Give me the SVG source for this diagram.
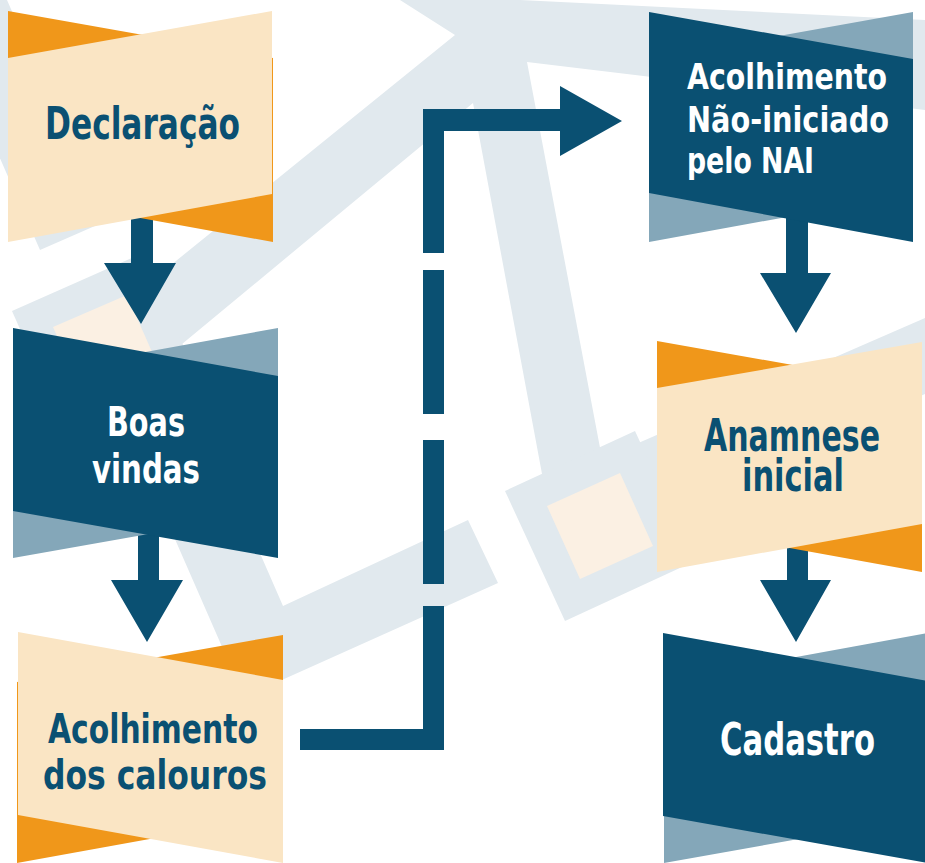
<svg xmlns="http://www.w3.org/2000/svg" width="925" height="863" viewBox="0 0 925 863">
<style>
.bg{fill:#e1e9ee}
.bgsq{fill:#fbf0e3}
.orange{fill:#f0971a}
.beige{fill:#fae5c4}
.dark{fill:#0a5072}
.light{fill:#84a7b9}
.conn{fill:#0a5072}
.t{font-family:"DejaVu Sans Condensed","DejaVu Sans",sans-serif;font-weight:bold;text-anchor:middle}
.tb{fill:#0a5072}
.tw{fill:#ffffff}
</style>
<rect width="925" height="863" fill="#ffffff"/>
<g id="background">
<polygon class="bg" points="400,0 520,0 925,20 925,110 527,62 608,490 545,490 473,103 170,354 150,282 455,35"/>
<polygon class="bg" points="40,250 104,222 7,0 -69,0"/>
<polygon class="bg" points="101,370 180,370 283,606 468,520 498,583 244,697"/>
<polygon class="bg" points="620,451 925,318 925,394 640,518"/>
<polygon class="bg" points="12,311 143,253 200,384 70,442"/>
<polygon class="bgsq" points="53,327 127,295 159,368 85,400"/>
<polygon class="bg" points="505,491 635,431 695,561 565,621"/>
<polygon class="bgsq" points="547,506 620,473 653,546 580,579"/>
</g>
<g id="connectors">
<path class="conn" d="M131,200H153V263H176L141,324L104,263H131Z"/>
<path class="conn" d="M138,500H159V580H183L147,642L111,580H138Z"/>
<path class="conn" d="M786,200H808V273H831L796,333L760,273H786Z"/>
<path class="conn" d="M787,540H808V580H831L796,642L760,580H787Z"/>
<path class="conn" d="M300,729H423V606H444V750H300Z M423,440H444V584H423Z M423,270H444V414H423Z M423,109H560V86L622,121L560,156V131H444V253H423Z"/>
</g>
<g id="node-declaracao">
<polygon class="orange" points="8,11 273,58 273,242 8,194"/>
<polygon class="beige" points="8,58 272,11 272,194 8,242"/>
<text class="t tb" x="142.5" y="139" font-size="44" textLength="195" lengthAdjust="spacingAndGlyphs">Declaração</text>
</g>
<g id="node-boas-vindas">
<polygon class="light" points="13,376 278,328 278,511 13,558"/>
<polygon class="dark" points="13,328 278,376 278,558 13,511"/>
<text class="t tw" x="146" y="436" font-size="41" textLength="78" lengthAdjust="spacingAndGlyphs">Boas</text>
<text class="t tw" x="146" y="483" font-size="41" textLength="108" lengthAdjust="spacingAndGlyphs">vindas</text>
</g>
<g id="node-acolhimento-calouros">
<polygon class="orange" points="17,682 283,635 283,815 17,863"/>
<polygon class="beige" points="18,632 283,680 283,863 18,815"/>
<text class="t tb" x="153" y="743" font-size="41" textLength="210" lengthAdjust="spacingAndGlyphs">Acolhimento</text>
<text class="t tb" x="155" y="789" font-size="41" textLength="224" lengthAdjust="spacingAndGlyphs">dos calouros</text>
</g>
<g id="node-acolhimento-nai">
<polygon class="light" points="649,59 913,12 913,194 649,242"/>
<polygon class="dark" points="649,12 913,59 913,242 649,193"/>
<text class="t tw" x="787" y="89" font-size="35" textLength="200" lengthAdjust="spacingAndGlyphs">Acolhimento</text>
<text class="t tw" x="788" y="132" font-size="35" textLength="202" lengthAdjust="spacingAndGlyphs">Não-iniciado</text>
<text class="t tw" x="750.5" y="173" font-size="35" textLength="127" lengthAdjust="spacingAndGlyphs">pelo NAI</text>
</g>
<g id="node-anamnese">
<polygon class="orange" points="657,341 922,388 922,572 657,524"/>
<polygon class="beige" points="657,388 922,342 922,524 657,572"/>
<text class="t tb" x="792" y="451" font-size="44" textLength="176" lengthAdjust="spacingAndGlyphs">Anamnese</text>
<text class="t tb" x="793" y="491" font-size="44" textLength="102" lengthAdjust="spacingAndGlyphs">inicial</text>
</g>
<g id="node-cadastro">
<polygon class="light" points="664,681 928,633 928,816 664,863"/>
<polygon class="dark" points="663,633 928,681 928,863 663,816"/>
<text class="t tw" x="797.5" y="755" font-size="44" textLength="155" lengthAdjust="spacingAndGlyphs">Cadastro</text>
</g>
</svg>
